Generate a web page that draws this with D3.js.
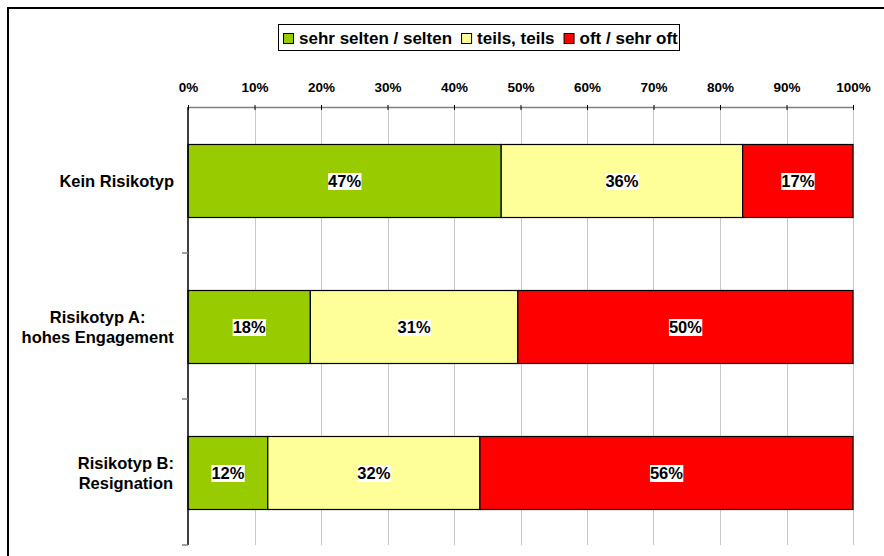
<!DOCTYPE html>
<html><head><meta charset="utf-8">
<script src="https://cdn.jsdelivr.net/npm/d3@7"></script>
<style>body{margin:0;background:#fff}svg{display:block;font-family:"Liberation Sans",Arial,sans-serif}</style>
</head><body><svg id="c" width="884" height="556"></svg>
<script>
const categories = [["Kein Risikotyp"], ["Risikotyp A:", "hohes Engagement"], ["Risikotyp B:", "Resignation"]];
const seriesNames = ["sehr selten / selten", "teils, teils", "oft / sehr oft"];
const seriesColors = ["#99CC00", "#FFFF99", "#FF0000"];
const selten = [47.1, 18.4, 12.0];
const teils = [36.3, 31.2, 31.9];
const oft = [16.6, 50.4, 56.1];
const tickValues = [0, 0.1, 0.2, 0.3, 0.4, 0.5, 0.6, 0.7, 0.8, 0.9, 1.0];

(function () {
const svg = d3.select("#c");
const keys = ["s0", "s1", "s2"];
const rows = categories.map((c, i) => ({ idx: i, s0: selten[i], s1: teils[i], s2: oft[i] }));
const stacked = d3.stack().keys(keys).offset(d3.stackOffsetExpand)(rows);

const pL = 188, pR = 853, pT = 107, pB = 545;
const x = d3.scaleLinear().domain([0, 1]).range([pL, pR]);
const y = d3.scaleBand().domain(d3.range(categories.length)).range([pT, pB]).paddingInner(0.5).paddingOuter(0.25);
const yb = d3.scaleBand().domain(d3.range(categories.length)).range([pT, pB]);

// outer frame
svg.append("path").attr("d", "M8,556 V8 H884").attr("fill", "none").attr("stroke", "#000").attr("stroke-width", 2);

// gridlines
svg.append("g").selectAll("line").data(tickValues.slice(1)).join("line")
  .attr("x1", d => Math.round(x(d)) + 0.5).attr("x2", d => Math.round(x(d)) + 0.5)
  .attr("y1", pT).attr("y2", pB).attr("stroke", "#c8c8c8").attr("stroke-width", 1);

// top axis
const ax = svg.append("g").attr("transform", `translate(0,${pT})`)
  .call(d3.axisTop(x).tickValues(tickValues).tickFormat(d3.format(".0%")).tickSizeInner(-3).tickSizeOuter(0).tickPadding(0));
ax.select(".domain").attr("stroke", "#808080").attr("stroke-width", 1.5);
ax.selectAll(".tick line").attr("stroke", "#000").attr("y1", -2).attr("y2", 3);
ax.selectAll(".tick text").attr("y", -15).attr("dy", "0").attr("font-size", 13.5).attr("font-weight", "bold").attr("fill", "#000")
  .attr("font-family", "Liberation Sans, Arial, sans-serif");

// bars
const g = svg.append("g");
stacked.forEach((layer, si) => {
  g.selectAll(null).data(layer).join("rect")
    .attr("x", d => x(d[0])).attr("width", d => x(d[1]) - x(d[0]))
    .attr("y", (d, i) => y(i) + 1).attr("height", y.bandwidth())
    .attr("fill", seriesColors[si]).attr("stroke", "#000").attr("stroke-width", 1.2);
});

// left axis
svg.append("line").attr("x1", pL).attr("x2", pL).attr("y1", pT).attr("y2", pB).attr("stroke", "#000").attr("stroke-width", 1.5);
svg.append("g").selectAll("line").data(d3.range(1, categories.length + 1)).join("line")
  .attr("x1", pL - 6).attr("x2", pL).attr("y1", d => pT + d * yb.bandwidth()).attr("y2", d => pT + d * yb.bandwidth())
  .attr("stroke", "#808080").attr("stroke-width", 1.5);

// data labels
const raw = [selten, teils, oft];
const fmt = d3.format(".0f");
stacked.forEach((layer, si) => {
  layer.forEach((d, i) => {
    const cx = (x(d[0]) + x(d[1])) / 2, cy = y(i) + 1 + y.bandwidth() / 2;
    const t = svg.append("text").attr("x", cx).attr("y", cy + 6).attr("text-anchor", "middle")
      .attr("font-size", 16.5).attr("font-weight", "bold").text(fmt(raw[si][i]) + "%");
    const bb = t.node().getBBox();
    svg.insert("rect", () => t.node()).attr("x", bb.x).attr("y", bb.y + 1).attr("width", bb.width).attr("height", bb.height - 1).attr("fill", "#fff");
  });
});

// category labels
categories.forEach((lines, i) => {
  const cy = y(i) + 1 + y.bandwidth() / 2;
  const t = svg.append("text").attr("font-size", 16.5).attr("font-weight", "bold").attr("text-anchor", "middle");
  const lh = 20;
  lines.forEach((l, j) => {
    t.append("tspan").attr("x", 0).attr("y", cy + 6 + (j - (lines.length - 1) / 2) * lh).text(l);
  });
  const w = t.node().getBBox().width;
  t.selectAll("tspan").attr("x", 174 - w / 2);
});

// legend
const lg = svg.append("g");
const lx = 278, ly = 24, lw = 401, lhgt = 26;
lg.append("rect").attr("x", lx + 0.5).attr("y", ly + 0.5).attr("width", lw).attr("height", lhgt).attr("fill", "#fff").attr("stroke", "#000").attr("stroke-width", 1);
let cx = lx + 5;
seriesNames.forEach((n, i) => {
  lg.append("rect").attr("x", cx + 0.5).attr("y", ly + 9.5).attr("width", 10).attr("height", 10).attr("fill", seriesColors[i]).attr("stroke", "#000").attr("stroke-width", 1);
  const t = lg.append("text").attr("x", cx + 16).attr("y", ly + 19.5).attr("font-size", 17).attr("font-weight", "bold").text(n);
  cx += 16 + t.node().getComputedTextLength() + 9;
});
})();
</script></body></html>
